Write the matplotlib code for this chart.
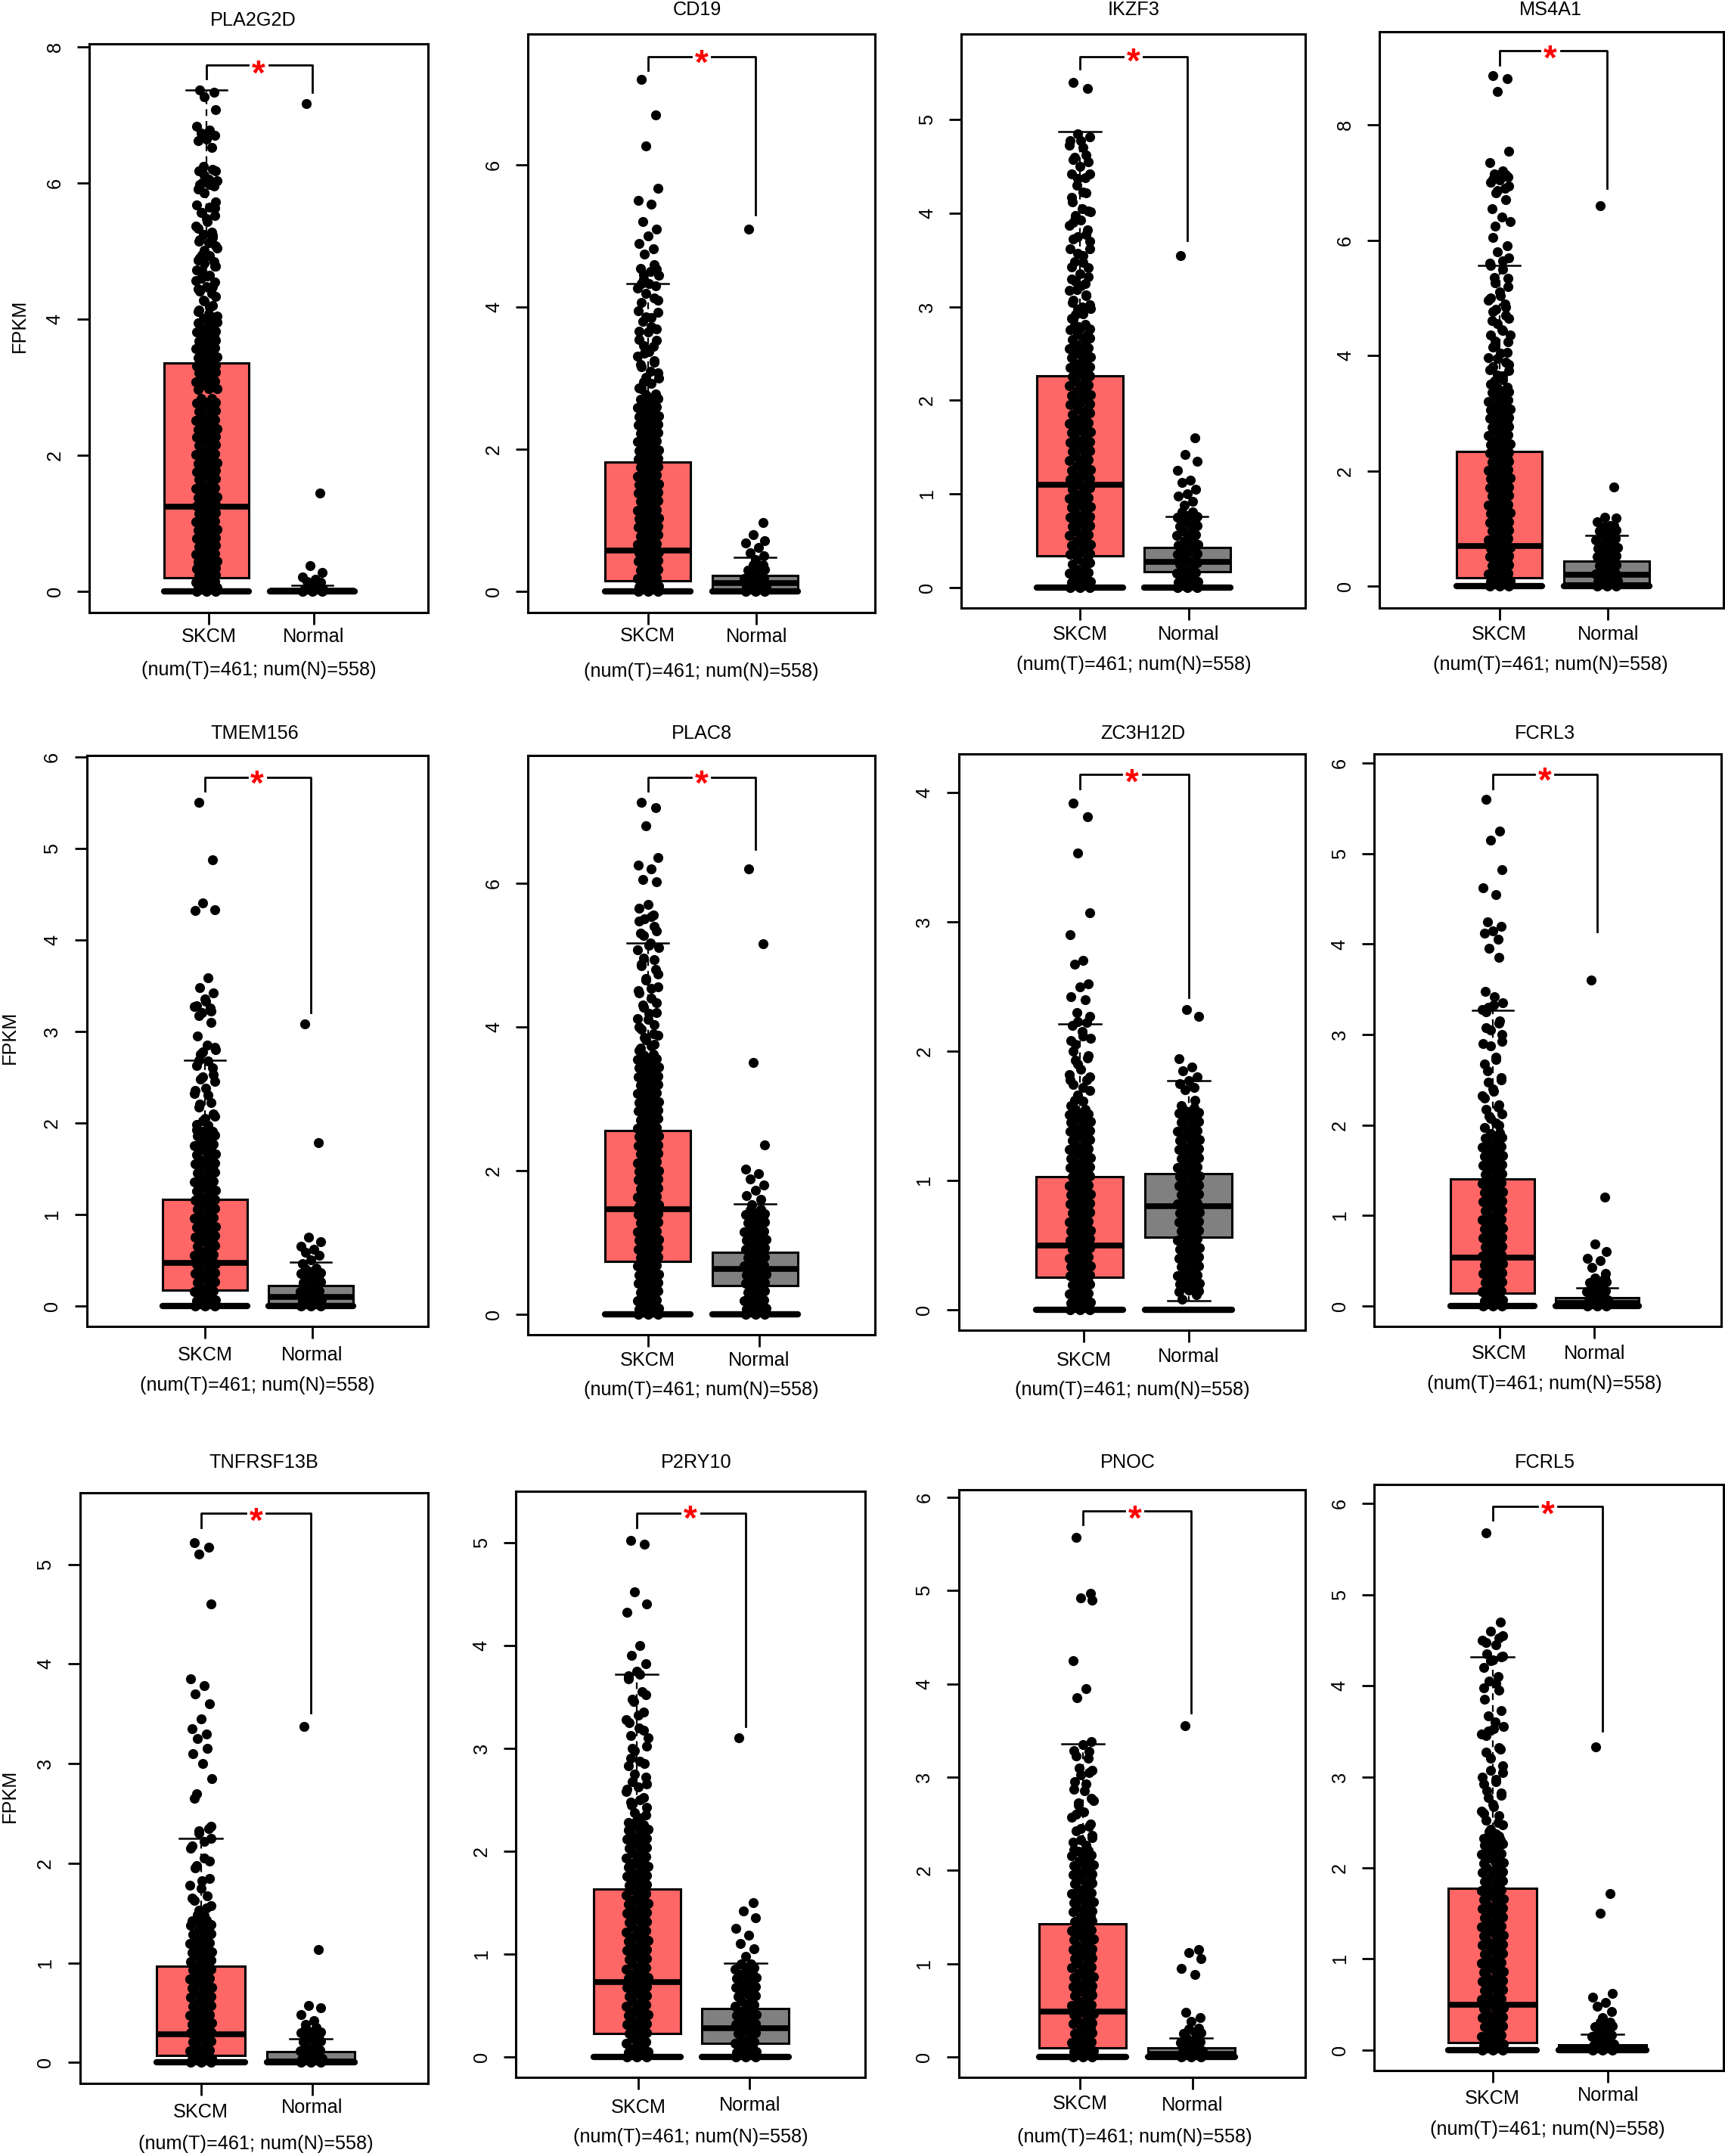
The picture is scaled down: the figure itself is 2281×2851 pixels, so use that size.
import matplotlib
matplotlib.use("Agg")
import matplotlib.pyplot as plt
import numpy as np

plt.rcParams['font.family'] = ['Liberation Sans', 'DejaVu Sans']

genes = ["PLA2G2D", "CD19", "IKZF3", "MS4A1", "TMEM156", "PLAC8", "ZC3H12D", "FCRL3",
         "TNFRSF13B", "P2RY10", "PNOC", "FCRL5"]
groups = ["SKCM", "Normal"]
note = "(num(T)=461; num(N)=558)"
y_ticks = [[0, 2, 4, 6, 8], [0, 2, 4, 6], [0, 1, 2, 3, 4, 5], [0, 2, 4, 6, 8],
           [0, 1, 2, 3, 4, 5, 6], [0, 2, 4, 6], [0, 1, 2, 3, 4], [0, 1, 2, 3, 4, 5, 6],
           [0, 1, 2, 3, 4, 5], [0, 1, 2, 3, 4, 5], [0, 1, 2, 3, 4, 5, 6], [0, 1, 2, 3, 4, 5, 6]]

# q1, median, q3, lower whisker, upper whisker
tumor_stats = [[.2, 1.25, 3.36, 0, 7.36], [.15, .58, 1.82, 0, 4.33], [.34, 1.10, 2.26, 0, 4.87],
               [.15, .69, 2.34, 0, 5.56], [.17, .47, 1.16, 0, 2.68], [.73, 1.46, 2.55, 0, 5.17],
               [.25, .50, 1.03, 0, 2.21], [.14, .53, 1.40, 0, 3.27], [.07, .28, .97, 0, 2.25],
               [.23, .73, 1.63, 0, 3.72], [.10, .49, 1.43, 0, 3.36], [.08, .50, 1.78, 0, 4.32]]
normal_stats = [[0, .01, .03, 0, .09], [.02, .12, .23, 0, .48], [.17, .27, .43, 0, .76],
                [.05, .2, .43, 0, .88], [0, .10, .22, 0, .48], [.40, .63, .86, 0, 1.53],
                [.56, .80, 1.05, .07, 1.77], [0, .03, .09, 0, .2], [0, .01, .11, 0, .24],
                [.13, .28, .47, 0, .91], [0, .03, .10, 0, .2], [0, .02, .06, 0, .17]]

# solid part of each column, five dots per row
tumor_rows = [
    [.01, .08, .17, .27, .37, .47, .58, .7, .82, .94, 1.06, 1.18, 1.3, 1.42, 1.55, 1.68, 1.8, 1.92, 2.05, 2.18, 2.3, 2.42, 2.55, 2.68, 2.8, 3.0, 3.12, 3.25, 3.35, 3.47, 3.6, 3.72, 3.85, 3.98],
    [.01, .1, .22, .34, .46, .58, .7, .82, .94, 1.06, 1.18, 1.3, 1.42, 1.54, 1.66, 1.78, 1.9, 2.02, 2.14, 2.26, 2.38, 2.5, 2.62, 2.74],
    [.01, .08, .18, .28, .38, .48, .58, .68, .78, .88, .98, 1.08, 1.18, 1.28, 1.38, 1.48, 1.58, 1.68, 1.78, 1.88, 1.98, 2.08, 2.18, 2.28, 2.38, 2.48, 2.58, 2.68, 2.78],
    [.01, .12, .25, .4, .55, .7, .85, 1, 1.15, 1.3, 1.45, 1.6, 1.75, 1.9, 2.05, 2.2, 2.35, 2.5, 2.65, 2.8, 2.95, 3.1, 3.25, 3.4],
    [.01, .08, .18, .28, .38, .48, .58, .68, .78, .88, .98, 1.08, 1.18, 1.28, 1.38, 1.48, 1.58, 1.68, 1.78, 1.88],
    [.01, .1, .22, .34, .46, .58, .7, .82, .94, 1.06, 1.18, 1.3, 1.42, 1.54, 1.66, 1.78, 1.9, 2.02, 2.14, 2.26, 2.38, 2.5, 2.62, 2.74, 2.86, 2.98, 3.1, 3.22, 3.34, 3.46, 3.58],
    [.01, .07, .14, .21, .28, .35, .42, .49, .56, .63, .7, .77, .84, .91, .98, 1.05, 1.12, 1.19, 1.26, 1.33, 1.4, 1.47, 1.53],
    [.01, .08, .18, .28, .38, .48, .58, .68, .78, .88, .98, 1.08, 1.18, 1.28, 1.38, 1.48, 1.58, 1.68, 1.78, 1.88],
    [.01, .06, .14, .23, .32, .41, .5, .59, .68, .77, .86, .95, 1.04, 1.13, 1.22, 1.31, 1.4],
    [.01, .07, .16, .25, .34, .43, .52, .61, .7, .79, .88, .97, 1.06, 1.15, 1.24, 1.33, 1.42, 1.51, 1.6, 1.69, 1.78, 1.87, 1.96, 2.05, 2.14, 2.23],
    [.01, .08, .18, .28, .38, .48, .58, .68, .78, .88, .98, 1.08, 1.18, 1.28, 1.38, 1.48, 1.58, 1.68, 1.78, 1.88, 1.98, 2.08, 2.18],
    [.01, .08, .18, .28, .38, .48, .58, .68, .78, .88, .98, 1.08, 1.18, 1.28, 1.38, 1.48, 1.58, 1.68, 1.78, 1.88, 1.98, 2.08, 2.18, 2.28],
]
normal_rows = [
    [.01, .06],
    [.01, .1, .22, .34],
    [.01, .08, .18, .28, .38, .48, .58, .68, .78],
    [.01, .12, .25, .4, .55, .7, .85, 1.0],
    [.01, .08, .18, .28, .38],
    [.01, .1, .22, .34, .46, .58, .7, .82, .94, 1.06, 1.18, 1.3, 1.42],
    [.16, .22, .28, .35, .42, .49, .56, .63, .7, .77, .84, .91, .98, 1.05, 1.12, 1.19, 1.26, 1.33, 1.4, 1.47, 1.54],
    [.01, .08, .18, .28],
    [.01, .06, .14, .23, .32],
    [.01, .07, .16, .25, .34, .43, .52, .61, .7, .79, .88],
    [.01, .08, .18, .28],
    [.01, .08, .18, .28],
]

# thinner part above it, two dots per row
tumor_mid = [
    [4.15, 4.3, 4.45, 4.6, 4.75, 4.9, 5.05, 5.2, 5.4, 5.6, 5.95, 6.15],
    [2.9, 3.05, 3.2, 3.35, 3.5, 3.7, 3.9, 4.1, 4.3, 4.5],
    [2.9, 3.0, 3.1, 3.2, 3.3, 3.45, 3.6, 3.75, 3.9, 4.0, 4.2, 4.4, 4.6, 4.75],
    [3.55, 3.7, 3.85, 4, 4.2, 4.4, 4.6, 4.8, 5.0, 5.3, 5.6, 6.9, 7.1],
    [1.95, 2.05, 2.2, 2.35, 2.5, 2.65, 2.8, 3.2, 3.3],
    [3.7, 3.85, 4, 4.15, 4.3, 4.5, 4.7, 4.9, 5.1, 5.3, 5.5],
    [1.6, 1.68, 1.76, 1.84, 1.95, 2.1, 2.25],
    [2.0, 2.1, 2.2, 2.35, 2.5, 2.7, 2.9, 3.1, 3.3],
    [1.45, 1.55, 1.65, 1.8, 2.0, 2.2, 2.35],
    [2.3, 2.4, 2.5, 2.6, 2.7, 2.85, 3.0, 3.15, 3.3, 3.5, 3.7],
    [2.25, 2.35, 2.45, 2.6, 2.75, 2.9, 3.05, 3.25],
    [2.35, 2.45, 2.55, 2.65, 2.8, 2.95, 3.1, 3.3, 3.5, 3.7, 4.0, 4.3, 4.5],
]

# single dots
tumor_dots = [
    [7.37, 7.33, 7.27, 7.08, 6.83, 6.78, 6.73, 6.7, 6.64, 6.62, 6.52, 6.24, 6.2, 6.18, 6.05, 6.03, 6.0, 5.98, 5.95, 5.85, 5.72, 5.68, 5.65, 5.57, 5.52, 5.48, 5.33, 5.28, 5.25, 5.2, 5.15, 5.12, 5.05, 4.95, 4.9, 4.85, 4.82, 4.78, 4.72, 4.65, 4.6, 4.55, 4.48, 4.45, 4.38, 4.28, 4.2, 4.13, 4.08, 4.05],
    [7.2, 6.7, 6.27, 5.67, 5.5, 5.45, 5.2, 5.1, 5.0, 4.9, 4.82, 4.75, 4.6, 4.55, 4.5, 4.45, 4.4, 4.33, 4.3, 4.2, 4.1, 3.95, 3.85, 3.8, 3.7, 3.65, 3.55, 3.45, 3.35, 3.25, 3.2, 3.1, 3.0, 2.95, 2.85],
    [5.4, 5.33, 4.85, 4.82, 4.78, 4.7, 4.6, 4.55, 4.5, 4.42, 4.38, 4.3, 4.22, 4.12, 4.05, 4.02, 3.95, 3.9, 3.82, 3.75, 3.7, 3.62, 3.55, 3.48, 3.42, 3.35, 3.3, 3.25, 3.18, 3.12, 3.05, 3.0, 2.98, 2.92, 2.87],
    [8.85, 8.8, 8.58, 7.55, 7.35, 7.2, 7.15, 7.1, 7.05, 7.0, 6.9, 6.82, 6.7, 6.55, 6.4, 6.32, 6.25, 6.05, 5.9, 5.8, 5.7, 5.6, 5.5, 5.35, 5.2, 5.1, 5, 4.9, 4.8, 4.7, 4.6, 4.45, 4.35, 4.25, 4.15, 4.05, 3.95, 3.85, 3.75, 3.65, 3.55],
    [5.5, 4.87, 4.4, 4.33, 4.32, 3.58, 3.48, 3.42, 3.35, 3.28, 3.25, 3.2, 3.1, 2.95, 2.85, 2.8, 2.75, 2.68, 2.6, 2.5, 2.45, 2.35, 2.3, 2.2, 2.1, 2.05, 1.98],
    [7.12, 7.05, 6.8, 6.35, 6.25, 6.2, 6.05, 6.02, 5.7, 5.65, 5.55, 5.5, 5.4, 5.3, 5.17, 5.1, 4.95, 4.85, 4.8, 4.65, 4.55, 4.5, 4.4, 4.3, 4.2, 4.1, 4.0, 3.9, 3.85, 3.75, 3.7],
    [3.92, 3.81, 3.53, 3.07, 2.9, 2.7, 2.67, 2.52, 2.5, 2.42, 2.4, 2.3, 2.22, 2.2, 2.15, 2.1, 2.05, 2.0, 1.95, 1.9, 1.8, 1.78, 1.72, 1.62],
    [5.6, 5.25, 5.15, 4.82, 4.62, 4.55, 4.25, 4.2, 4.15, 4.12, 4.05, 3.95, 3.85, 3.48, 3.42, 3.35, 3.3, 3.25, 3.15, 3.05, 3.0, 2.9, 2.75, 2.6, 2.5, 2.4, 2.3, 2.2, 2.1, 2.0],
    [5.22, 5.17, 5.1, 4.6, 3.85, 3.78, 3.7, 3.6, 3.45, 3.35, 3.3, 3.25, 3.15, 3.1, 3.0, 2.85, 2.7, 2.65, 2.35, 2.3, 2.25, 2.15, 2.05, 1.95, 1.85, 1.75, 1.65, 1.55, 1.48],
    [5.02, 4.98, 4.52, 4.4, 4.32, 4.0, 3.9, 3.82, 3.75, 3.7, 3.55, 3.45, 3.35, 3.25, 3.2, 3.1, 3.0, 2.9, 2.85, 2.75, 2.65, 2.6, 2.5, 2.45, 2.35, 2.3],
    [5.57, 4.97, 4.92, 4.9, 4.25, 3.95, 3.85, 3.38, 3.35, 3.28, 3.2, 3.1, 3.05, 2.95, 2.85, 2.75, 2.7, 2.6, 2.5, 2.45, 2.35, 2.3],
    [5.68, 4.7, 4.6, 4.55, 4.5, 4.45, 4.35, 4.32, 4.28, 4.2, 4.1, 4.05, 3.95, 3.85, 3.6, 3.55, 3.5, 3.45, 3.3, 3.2, 3.05, 3, 2.95, 2.85, 2.8, 2.7, 2.6, 2.5, 2.4, 2.35],
]
normal_dots = [
    [7.17, 1.45, .38, .28, .22, .18, .15, .14, .12],
    [5.1, .97, .8, .72, .68, .62, .55, .5, .45],
    [3.55, 1.6, 1.42, 1.35, 1.25, 1.15, 1.12, 1.05, 1.0, .98, .92, .88],
    [6.6, 1.72, 1.2, 1.18, 1.12, 1.05],
    [3.08, 1.78, .75, .7, .65, .62, .58, .55, .5, .46],
    [6.2, 5.15, 3.5, 2.35, 2.02, 1.95, 1.88, 1.8, 1.72, 1.65, 1.6, 1.52],
    [.08, .12, 2.32, 2.27, 1.94, 1.88, 1.85, 1.8, 1.77, 1.75, 1.72, 1.7, 1.62, 1.58],
    [3.6, 1.2, .68, .6, .52, .5, .42, .36],
    [3.37, 1.13, .57, .55, .48, .42, .38],
    [3.1, 1.5, 1.42, 1.35, 1.25, 1.18, 1.1, 1.05, .98],
    [3.55, 1.15, 1.12, 1.05, .95, .88, .48, .42, .38],
    [3.33, 1.72, 1.5, .62, .58, .52, .48, .42, .36],
]

jitter = [-.06, .07, -.02, .09, -.09, .03, -.05, .08, 0, -.08, .05, -.03, .06, -.07, .02, .1, -.04]
row_jitter = [[-.09, -.05, 0, .05, .09], [-.08, -.03, .02, .06, .1], [-.1, -.04, .01, .05, .08], [-.07, -.02, .03, .07, .09]]
mid_jitter = [[-.08, .03], [-.02, .09], [-.06, .06], [-.1, .01], [-.04, .08]]
# small vertical stagger of the dots in a row, view pixels, so rows do not show as bands
row_stagger = [-1.8, 1.6, -.8, 2, -1.2]

# layout below is in pixels of a 1254x1567 view of the figure
VIEW_W, VIEW_H = 1254, 1567
# left, right, top, bottom, x of SKCM, x of Normal, y of zero, px per unit
panels = [(65, 311, 32, 445, 150, 227, 430, 49.5), (384, 636, 25, 445, 471, 549, 430, 51.67),
          (699, 949, 25, 442, 785, 863, 427, 68), (1003, 1253, 23, 442, 1090, 1168, 426, 41.9),
          (63, 311, 549, 964, 149, 226, 949, 66.5), (384, 636, 549, 970, 471, 549, 955, 52.2),
          (697, 949, 548, 967, 785, 864, 952, 94), (999, 1251, 548, 964, 1085, 1161, 949, 65.7),
          (58, 311, 1085, 1514, 146, 226, 1499, 72.4), (375, 629, 1084, 1510, 463, 542, 1495, 74.8),
          (697, 949, 1083, 1510, 787, 866, 1495, 67.8), (999, 1253, 1079, 1505, 1085, 1165, 1490, 66.2)]
tick_x = [(152, 228), (471, 550), (785, 864), (1090, 1169), (149, 227), (471, 552),
          (788, 864), (1090, 1159), (146, 227), (464, 545), (785, 867), (1085, 1169)]
title_xy = [(184, 15), (507, 7), (824, 7), (1127, 7), (185, 533), (510, 533), (831, 533), (1123, 533),
            (192, 1063), (506, 1063), (820, 1063), (1123, 1063)]
note_xy = [(188, 487), (510, 488), (824, 483), (1127, 483), (187, 1007), (510, 1010), (823, 1010),
           (1123, 1006), (186, 1558), (502, 1553), (825, 1553), (1125, 1548)]
# y of SKCM label, y of Normal label
label_y = [(463, 463), (462, 463), (461, 461), (461, 461), (985, 985), (989, 989), (989, 986), (984, 984),
           (1535, 1532), (1532, 1530), (1529, 1530), (1525, 1523)]
# x of star, y of star, top of bracket, end of left arm, end of right arm
bracket = [(188, 50, 47, 57, 67), (510, 42, 41, 51, 156), (824, 41, 41, 50, 175), (1127, 39, 37, 47, 137),
           (187, 566, 565, 575, 736), (510, 566, 565, 575, 617), (823, 565, 563, 573, 725), (1123, 564, 563, 573, 677),
           (186, 1102, 1100, 1110, 1245), (502, 1100, 1100, 1110, 1255), (825, 1100, 1098, 1108, 1245), (1125, 1097, 1095, 1105, 1258)]
ylabel_xy = {0: (14, 237), 4: (7, 754), 8: (7, 1305)}

BOX_COLORS = ["#FF6666", "#808080"]
TICK_LEN = 11.5
DOT = 90
PX_PT = 2851 / VIEW_H * 0.72   # view pixels to points at dpi 100


def draw_rows(ax, x, rows, offsets, unit):
    for i, y in enumerate(rows):
        off = offsets[i % len(offsets)]
        ys = [max(0, y + row_stagger[k] / unit) for k in range(len(off))]
        ax.scatter([x + o for o in off], ys, s=DOT, c="black", linewidths=0, zorder=4)


def draw_column(ax, x, rows, mid, dots, unit):
    draw_rows(ax, x, rows, row_jitter, unit)
    draw_rows(ax, x, mid, mid_jitter, unit)
    xs = [x + jitter[i % len(jitter)] for i in range(len(dots))]
    ax.scatter(xs, dots, s=DOT, c="black", linewidths=0, zorder=4)


fig = plt.figure(figsize=(22.81, 28.51), dpi=100, facecolor="white")

for i, gene in enumerate(genes):
    L, R, T, B, x1, x2, y0, unit = panels[i]
    ax = fig.add_axes([L / VIEW_W, 1 - B / VIEW_H, (R - L) / VIEW_W, (B - T) / VIEW_H])
    step = x2 - x1

    stats = []
    for s, g in zip((tumor_stats[i], normal_stats[i]), groups):
        stats.append({"label": g, "q1": s[0], "med": s[1], "q3": s[2], "whislo": s[3], "whishi": s[4], "fliers": []})
    art = ax.bxp(stats, positions=[1, 2], widths=.8, capwidths=.39, patch_artist=True, showfliers=False,
                 manage_ticks=False,
                 boxprops=dict(linewidth=2.2, edgecolor="black"),
                 medianprops=dict(linewidth=5.5, color="black", solid_capstyle="butt"),
                 whiskerprops=dict(linewidth=1.6, color="black", linestyle=(0, (4, 3))),
                 capprops=dict(linewidth=1.8, color="black"))
    for patch, col in zip(art["boxes"], BOX_COLORS):
        patch.set_facecolor(col)
    ax.hlines([0, 0], [.6, 1.6], [1.4, 2.4], color="black", linewidth=6, capstyle="round", zorder=3)

    draw_column(ax, 1, tumor_rows[i], tumor_mid[i], tumor_dots[i], unit)
    draw_column(ax, 2, normal_rows[i], [], normal_dots[i], unit)

    ax.set_xlim(1 + (L - x1) / step, 1 + (R - x1) / step)
    ax.set_ylim((y0 - B) / unit, (y0 - T) / unit)

    # bracket with the star sitting in a gap of its top line
    sx, sy, top, arm_l, arm_r = bracket[i]
    to_x = lambda px: 1 + (px - x1) / step
    to_y = lambda py: (y0 - py) / unit
    gap = 7.5 / step
    ax.plot([1, 1, to_x(sx) - gap], [to_y(arm_l), to_y(top), to_y(top)], color="black", lw=2, zorder=5)
    ax.plot([to_x(sx) + gap, 2, 2], [to_y(top), to_y(top), to_y(arm_r)], color="black", lw=2, zorder=5)
    ax.text(to_x(sx), to_y(sy + 11.5), "*", color="#FF0000", fontsize=33, fontweight="bold",
            ha="center", va="baseline", zorder=6)

    for sp in ax.spines.values():
        sp.set_linewidth(2.2)
    ax.set_yticks(y_ticks[i])
    ax.set_xticks([to_x(p) for p in tick_x[i]], labels=groups)
    ax.tick_params(axis="both", length=TICK_LEN, width=2, labelsize=18.2)
    ax.tick_params(axis="y", labelrotation=90)
    for lab in ax.get_yticklabels():
        lab.set_va("center")
        lab.set_ha("center")
    for tick in ax.yaxis.get_major_ticks():
        tick.set_pad(25 * PX_PT - TICK_LEN)
    for tick, lab, py in zip(ax.xaxis.get_major_ticks(), ax.get_xticklabels(), label_y[i]):
        lab.set_va("center")
        tick.set_pad((py - B) * PX_PT - TICK_LEN)

    tx, ty = title_xy[i]
    ax.set_title(gene, fontsize=18.2, x=(tx - L) / (R - L), y=(B - ty) / (B - T), va="center", pad=0)
    ax.set_xlabel(note, fontsize=18.2, va="center")
    nx, ny = note_xy[i]
    ax.xaxis.set_label_coords(nx / VIEW_W, 1 - ny / VIEW_H, transform=fig.transFigure)
    if i in ylabel_xy:
        ax.set_ylabel("FPKM", fontsize=18.2, va="center")
        lx, ly = ylabel_xy[i]
        ax.yaxis.set_label_coords(lx / VIEW_W, 1 - ly / VIEW_H, transform=fig.transFigure)
    else:
        ax.set_ylabel("")

fig.savefig("out.png", dpi=100)
